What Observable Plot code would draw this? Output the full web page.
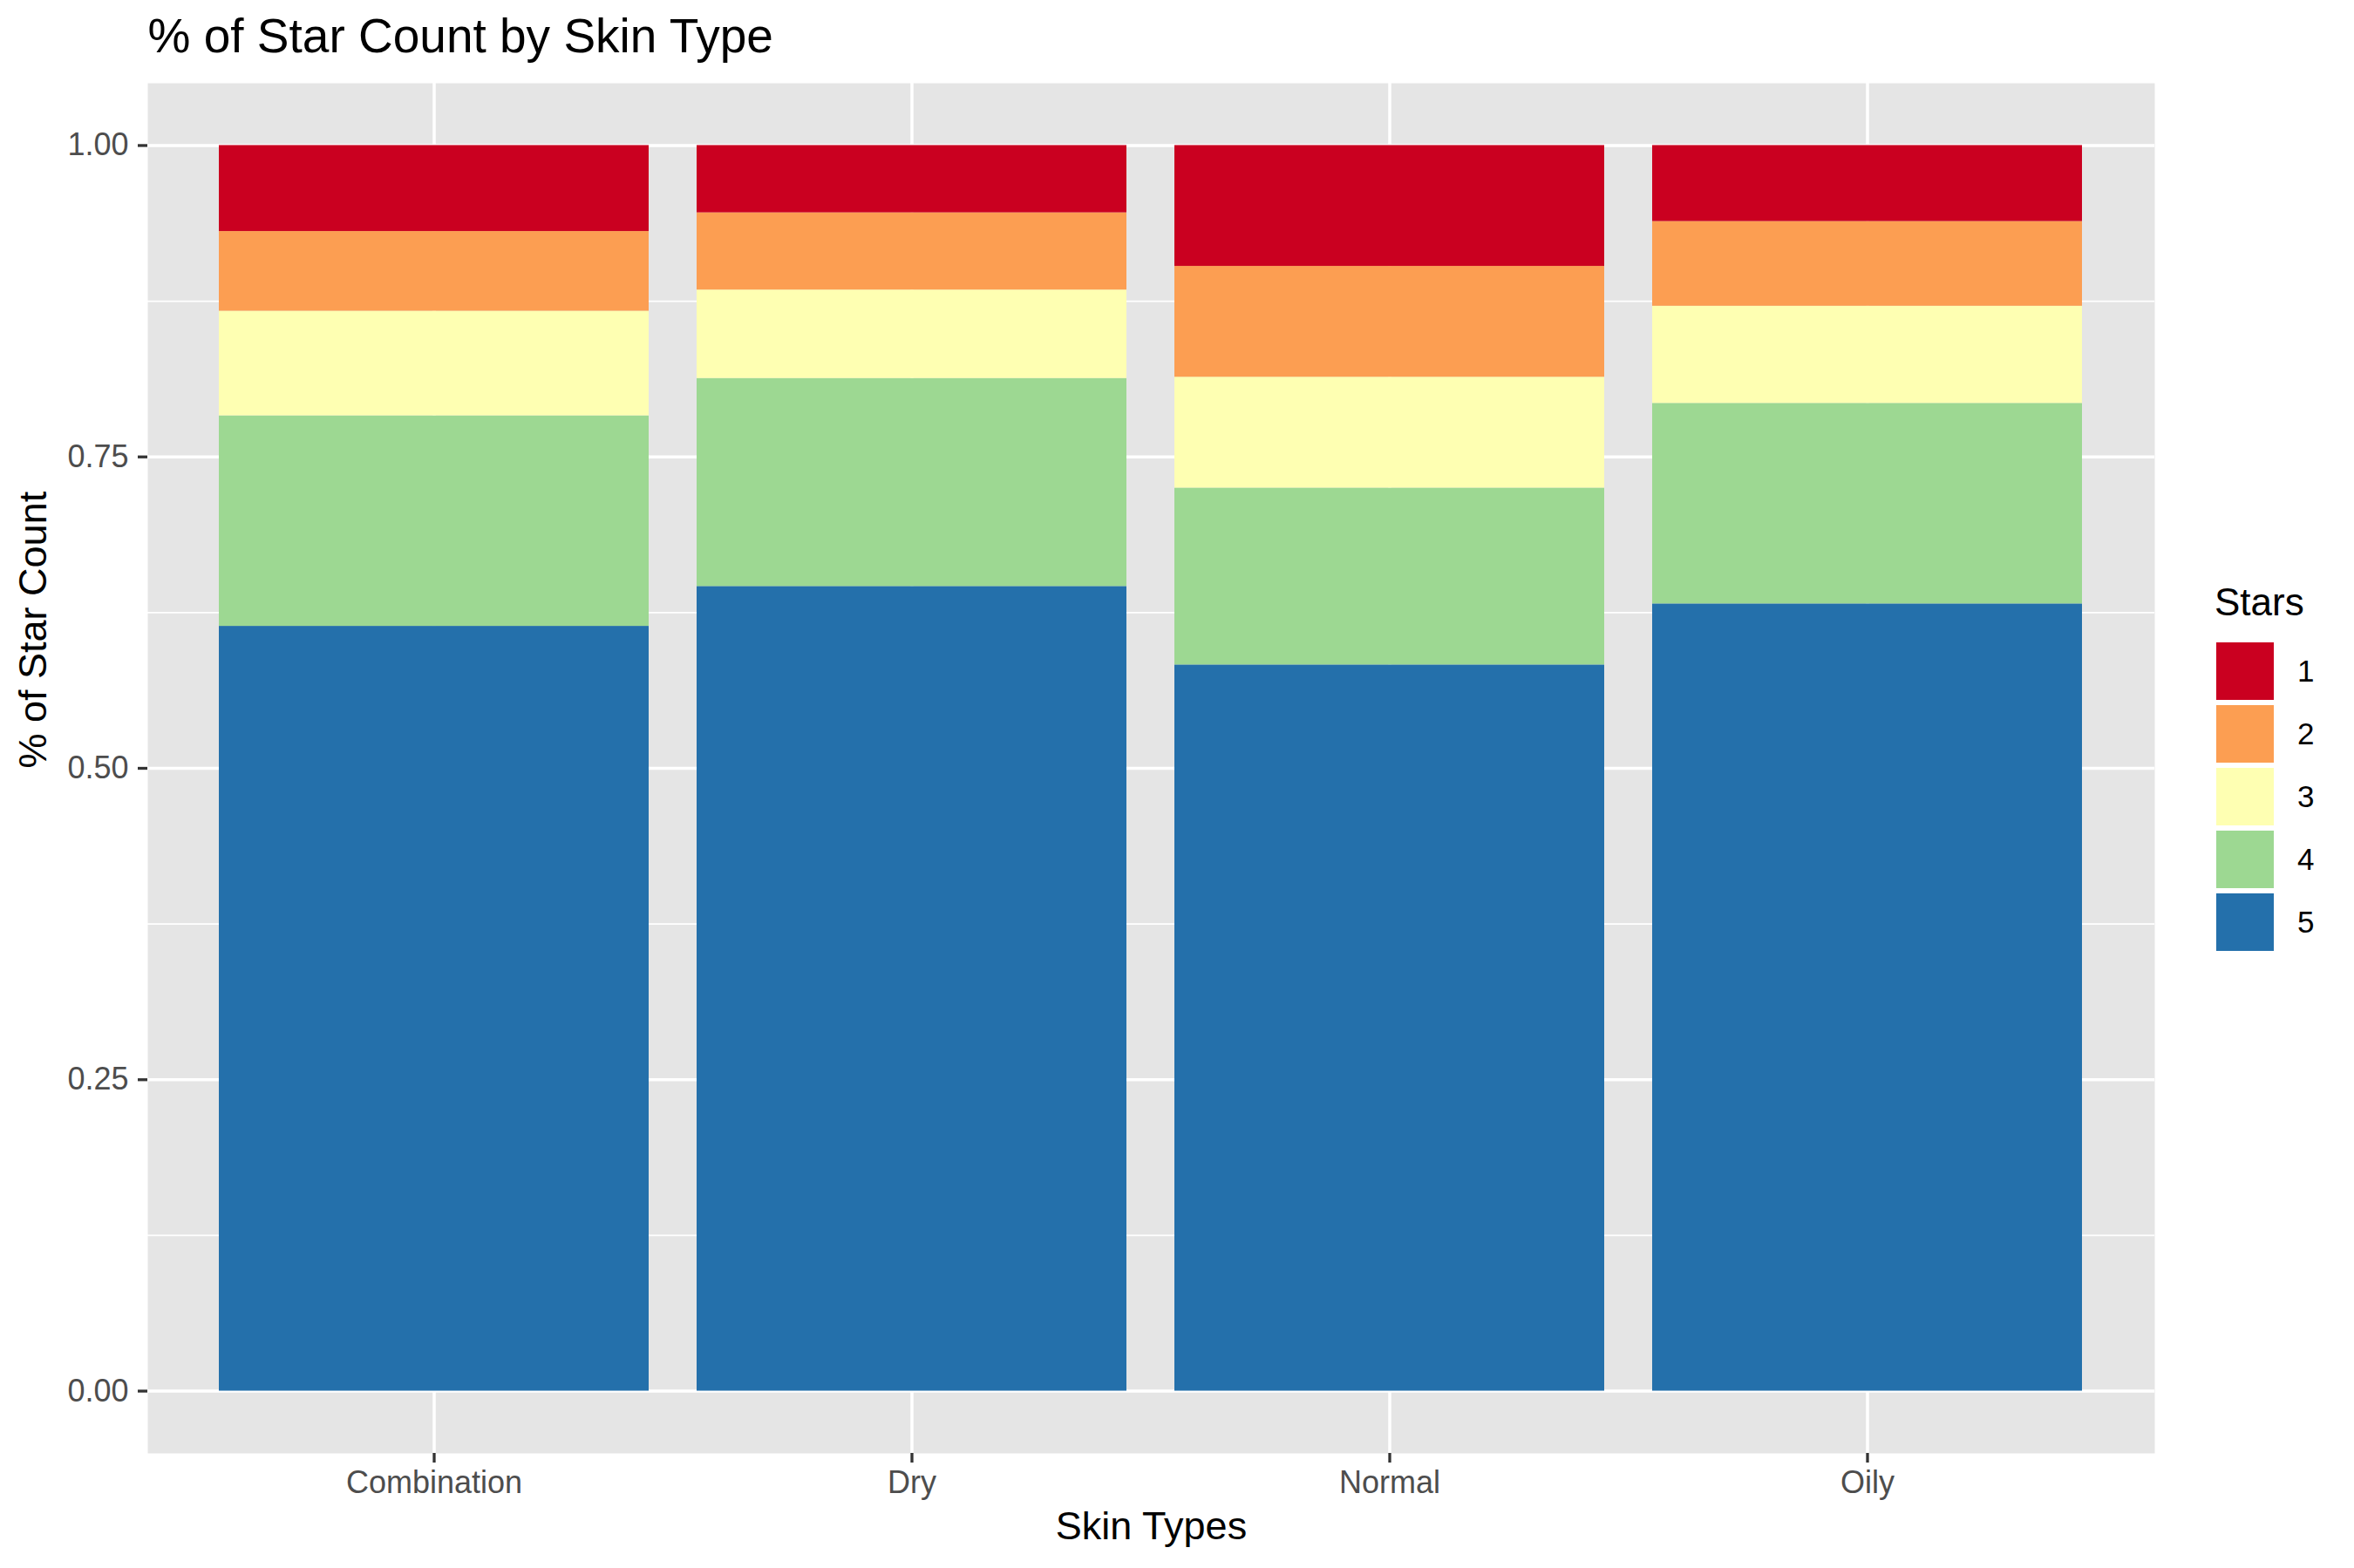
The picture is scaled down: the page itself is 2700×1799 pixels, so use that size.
<!DOCTYPE html>
<html>
<head>
<meta charset="utf-8">
<script src="https://cdn.jsdelivr.net/npm/d3@7"></script>
<script src="https://cdn.jsdelivr.net/npm/@observablehq/plot@0.6"></script>
<style>
  html, body { margin: 0; padding: 0; background: #ffffff; }
  #wrap { position: relative; width: 2700px; height: 1799px; font-family: "Liberation Sans", Arial, Helvetica, sans-serif; }
  #legend { position: absolute; left: 0; top: 0; }
  .lg-title { position: absolute; left: 2540px; top: 669px; font-size: 44px; line-height: 44px; color: #000; white-space: nowrap; }
  .lg-sw { position: absolute; left: 2542px; width: 66px; height: 66px; }
  .lg-lab { position: absolute; left: 2635px; font-size: 35px; line-height: 66px; height: 66px; color: #000; }
</style>
</head>
<body>
<div id="wrap"><div id="chart"></div><div id="legend"></div></div>
<script>
const skinTypes = ["Combination", "Dry", "Normal", "Oily"];
const starLevels = ["1", "2", "3", "4", "5"];
const star1 = [0.069, 0.054, 0.097, 0.061];
const star2 = [0.064, 0.062, 0.089, 0.068];
const star3 = [0.084, 0.071, 0.089, 0.078];
const star4 = [0.169, 0.167, 0.142, 0.161];
const star5 = [0.614, 0.646, 0.583, 0.632];
const starColors = ["#CA0020", "#FC9E52", "#FEFFB2", "#9DD892", "#2470AB"];
const yTicks = [0, 0.25, 0.5, 0.75, 1];
const yMinor = [0.125, 0.375, 0.625, 0.875];
const titleText = "% of Star Count by Skin Type";
const xTitle = "Skin Types";
const yTitle = "% of Star Count";
const legendTitle = "Stars";

const seriesByStar = {"1": star1, "2": star2, "3": star3, "4": star4, "5": star5};
const rows = [];
for (const s of ["5", "4", "3", "2", "1"]) {
  skinTypes.forEach((k, i) => rows.push({skin: k, stars: s, share: seriesByStar[s][i]}));
}

const font = "Liberation Sans, Arial, Helvetica, sans-serif";
const chart = Plot.plot({
  width: 2700,
  height: 1799,
  marginLeft: 169,
  marginRight: 229,
  marginTop: 95,
  marginBottom: 132,
  style: {fontFamily: font, background: "#ffffff", overflow: "visible"},
  x: {type: "band", domain: skinTypes, paddingInner: 0.1, paddingOuter: 0.15, label: null},
  y: {domain: [-0.05, 1.05], label: null},
  color: {domain: starLevels, range: starColors},
  marks: [
    Plot.frame({fill: "#E5E5E5", stroke: "none"}),
    Plot.gridY(yMinor, {stroke: "#ffffff", strokeOpacity: 1, strokeWidth: 1.8}),
    Plot.gridY(yTicks, {stroke: "#ffffff", strokeOpacity: 1, strokeWidth: 3.5}),
    Plot.gridX(skinTypes, {stroke: "#ffffff", strokeOpacity: 1, strokeWidth: 3.5}),
    Plot.barY(rows, {x: "skin", y: "share", fill: "stars", order: ["5", "4", "3", "2", "1"]}),
    Plot.axisY(yTicks, {tickSize: 11, tickPadding: 11, fontSize: 36, tickFormat: d3.format(".2f"),
      stroke: "#333333", strokeWidth: 3.3, fill: "#4D4D4D", label: null}),
    Plot.axisX(skinTypes, {tickSize: 11, tickPadding: 9, fontSize: 36,
      stroke: "#333333", strokeWidth: 3.3, fill: "#4D4D4D", label: null}),
    Plot.text([yTitle], {frameAnchor: "left", dx: -131, rotate: -90, fontSize: 45, fill: "#000", lineAnchor: "middle"}),
    Plot.text([xTitle], {frameAnchor: "bottom", dy: 84, fontSize: 45, fill: "#000", lineAnchor: "middle"}),
    Plot.text([titleText], {frameAnchor: "top-left", textAnchor: "start", dy: -53, dx: 0, fontSize: 55, fill: "#000", lineAnchor: "middle"})
  ]
});
document.getElementById("chart").appendChild(chart);

const legend = document.getElementById("legend");
const lt = document.createElement("div");
lt.className = "lg-title";
lt.textContent = legendTitle;
legend.appendChild(lt);
starLevels.forEach((s, i) => {
  const top = 737 + i * 72;
  const sw = document.createElement("div");
  sw.className = "lg-sw";
  sw.style.top = top + "px";
  sw.style.background = starColors[i];
  legend.appendChild(sw);
  const lab = document.createElement("div");
  lab.className = "lg-lab";
  lab.style.top = top + "px";
  lab.textContent = s;
  legend.appendChild(lab);
});
</script>
</body>
</html>
